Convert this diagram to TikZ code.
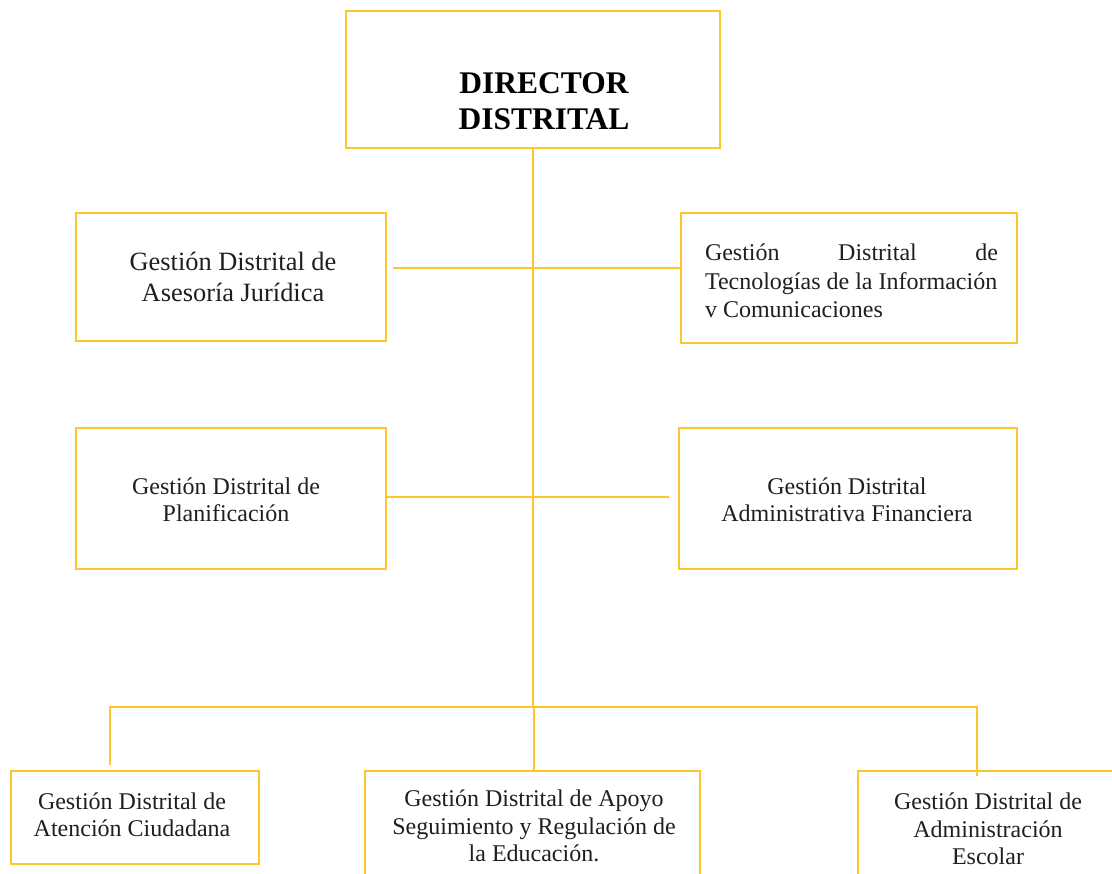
\documentclass[tikz,border=0pt]{standalone}
\usepackage{fontspec}
\setmainfont{Liberation Serif}
\definecolor{gold}{RGB}{255,198,44}
\begin{document}
\begin{tikzpicture}[x=1pt,y=-1pt,
  box/.style={draw=gold, line width=2.4pt, rectangle, inner sep=0pt},
  txt/.style={inner sep=0pt, align=center, text=black!88, font=\fontsize{24}{27.5}\selectfont},
  link/.style={draw=gold, line width=2pt}]
\useasboundingbox (0,0) rectangle (1112,874);
\clip (0,0) rectangle (1112,874);

% boxes
\node[box, minimum width=374, minimum height=137] (dir) at (533,79.5) {};
\node[txt, text=black, font=\fontsize{31.5}{36}\selectfont\bfseries] (dirt) at (544,101) {DIRECTOR\\DISTRITAL};

\node[box, minimum width=310, minimum height=128] (a2) at (231,277) {};
\node[txt, font=\fontsize{26.4}{31}\selectfont] (a2t) at (233,277) {Gestión Distrital de\\Asesoría Jurídica};

\node[box, minimum width=336, minimum height=130] (a3) at (849,278) {};
\node[txt, align=left, font=\fontsize{24}{28.5}\selectfont] (a3t) at (851.5,281) {\hbox to 293pt{Gestión\hfill Distrital\hfill de}\\\hbox to 293pt{Tecnologías de la Información\hss}\\v Comunicaciones};

\node[box, minimum width=310, minimum height=141] (a4) at (231,498.5) {};
\node[txt] (a4t) at (226,500) {Gestión Distrital de\\Planificación};

\node[box, minimum width=338, minimum height=141] (a5) at (848,498.5) {};
\node[txt] (a5t) at (847,500) {Gestión Distrital\\Administrativa Financiera};

\node[box, minimum width=248, minimum height=93] (b6) at (135,817.5) {};
\node[txt] (b6t) at (132,815) {Gestión Distrital de\\Atención Ciudadana};

\node[box, minimum width=335, minimum height=129] (b7) at (532.5,835.5) {};
\node[txt] (b7t) at (534,826) {Gestión Distrital de Apoyo\\Seguimiento y Regulación de\\la Educación.};

\node[box, minimum width=282, minimum height=129] (b8) at (999,835.5) {};
\node[txt] (b8t) at (988,829) {Gestión Distrital de\\Administración\\Escolar};

% connectors
\coordinate (bus) at (534,707);
\coordinate (dL) at (110,765);
\coordinate (dR) at (977,776);
\draw[link] (dir.south) -- (dir.south |- bus);
\draw[link] ([shift={(6,-9)}]a2.east) -- ([shift={(0,-10)}]a3.west);
\draw[link] ([shift={(0,-1.5)}]a4.east) -- ([shift={(-9,-1.5)}]a5.west);
\draw[link] (dL) -- (dL |- bus) -- (dR |- bus) -- (dR);
\draw[link] (bus) -- (bus |- b7.north);
\end{tikzpicture}
\end{document}
